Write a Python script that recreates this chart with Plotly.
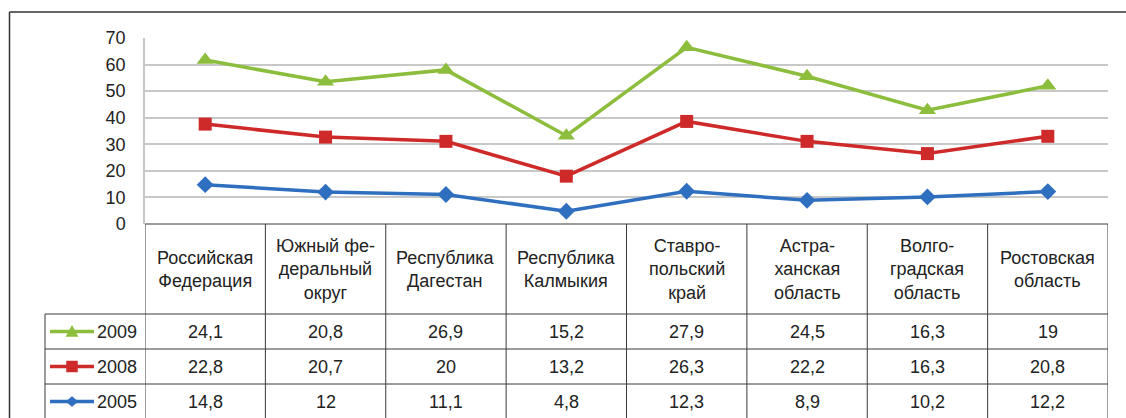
import plotly.graph_objects as go

categories = ["Российская<br>Федерация", "Южный фе-<br>деральный<br>округ", "Республика<br>Дагестан",
              "Республика<br>Калмыкия", "Ставро-<br>польский<br>край", "Астра-<br>ханская<br>область",
              "Волго-<br>градская<br>область", "Ростовская<br>область"]
v2005 = [14.8, 12, 11.1, 4.8, 12.3, 8.9, 10.2, 12.2]
v2008 = [22.8, 20.7, 20, 13.2, 26.3, 22.2, 16.3, 20.8]
v2009 = [24.1, 20.8, 26.9, 15.2, 27.9, 24.5, 16.3, 19]
y_ticks = [0, 10, 20, 30, 40, 50, 60, 70]

W, H = 1126, 418
L, R, T, B = 145, 1108, 38, 224  # plot area in pixels
FONT = "Arial, Liberation Sans, sans-serif"
TXT = "#222222"
FS = 18

series = [
    ("2005", v2005, "#2f6fbf", "diamond", 13),
    ("2008", v2008, "#cf2a2a", "square", 13),
    ("2009", v2009, "#8cbd3c", "triangle-up", 15),
]

xs = list(range(len(categories)))
fig = go.Figure()
for name, vals, col, sym, ms in series:
    fig.add_trace(go.Scatter(
        x=xs, y=vals, name=name, stackgroup="s", fill="none",
        mode="lines+markers", line=dict(color=col, width=3.5),
        marker=dict(symbol=sym, size=ms, color=col), showlegend=False,
    ))


def py(ypix):
    return (B - ypix) / (B - T)


def px(xpix):
    return (xpix - L) / (R - L)


shapes = []
ann = []
LINE = dict(color="#3a3a3a", width=1)
# outer frame
shapes.append(dict(type="line", xref="paper", yref="paper", x0=px(9.5), x1=px(1130), y0=py(12), y1=py(12),
                   line=dict(color="#333333", width=1.5)))
shapes.append(dict(type="line", xref="paper", yref="paper", x0=px(9.5), x1=px(9.5), y0=py(12), y1=py(425),
                   line=dict(color="#333333", width=1.5)))

row_tops = [314, 349, 384, 419]
shapes.append(dict(type="line", xref="paper", yref="paper", x0=0, x1=1, y0=py(B), y1=py(B), line=LINE))
for yt in row_tops:
    shapes.append(dict(type="line", xref="paper", yref="paper", x0=px(45), x1=1, y0=py(yt), y1=py(yt), line=LINE))
shapes.append(dict(type="line", xref="paper", yref="paper", x0=px(45), x1=px(45), y0=py(314), y1=py(420), line=LINE))
for i in range(len(categories) + 1):
    shapes.append(dict(type="line", xref="x", yref="paper", x0=i - 0.5, x1=i - 0.5, y0=py(B), y1=py(420), line=LINE))

for i, c in enumerate(categories):
    ann.append(dict(x=i, y=py((B + 314) / 2), xref="x", yref="paper", text=c, showarrow=False,
                    font=dict(family=FONT, size=FS, color=TXT), align="center", yanchor="middle"))

key_paths = {
    "triangle-up": "M -6 -5 L 6 -5 L 0 6 Z",
    "square": "M -5.5 -5.5 L 5.5 -5.5 L 5.5 5.5 L -5.5 5.5 Z",
    "diamond": "M -6 0 L 0 5 L 6 0 L 0 -5 Z",
}

rows = [series[2], series[1], series[0]]
for r, (name, vals, col, sym, ms) in enumerate(rows):
    yc = row_tops[r] + 17.5
    for i, v in enumerate(vals):
        ann.append(dict(x=i, y=py(yc), xref="x", yref="paper", text=f"{v:g}".replace(".", ","),
                        showarrow=False, font=dict(family=FONT, size=FS, color=TXT), yanchor="middle"))
    shapes.append(dict(type="line", xref="paper", yref="paper", x0=px(50), x1=px(94), y0=py(yc), y1=py(yc),
                       line=dict(color=col, width=3.5)))
    shapes.append(dict(type="path", xref="paper", yref="paper", xsizemode="pixel", ysizemode="pixel",
                       xanchor=px(72), yanchor=py(yc), path=key_paths[sym],
                       fillcolor=col, line=dict(color=col, width=0.5)))
    ann.append(dict(x=px(95), y=py(yc), xref="paper", yref="paper", text=name, showarrow=False,
                    xanchor="left", yanchor="middle", font=dict(family=FONT, size=FS, color=TXT)))

fig.update_layout(
    width=W, height=H, margin=dict(l=L, r=W - R, t=T, b=H - B),
    paper_bgcolor="white", plot_bgcolor="white",
    font=dict(family=FONT, size=FS, color=TXT),
    xaxis=dict(range=[-0.5, len(categories) - 0.5], showticklabels=False, showgrid=False,
               zeroline=False, showline=False, ticks=""),
    yaxis=dict(range=[0, 70], tickvals=y_ticks, showgrid=True, gridcolor="#c8c8c8", gridwidth=2,
               zeroline=False, showline=True, linecolor="#c8c8c8", linewidth=1.5, ticks="",
               tickfont=dict(family=FONT, size=FS, color=TXT), ticklabelstandoff=14),
    shapes=shapes, annotations=ann,
)
fig.update_traces(cliponaxis=False)
fig.write_html("out.html", config={"displayModeBar": False},
               post_script="document.body.style.margin='0';document.body.style.overflow='hidden';")
